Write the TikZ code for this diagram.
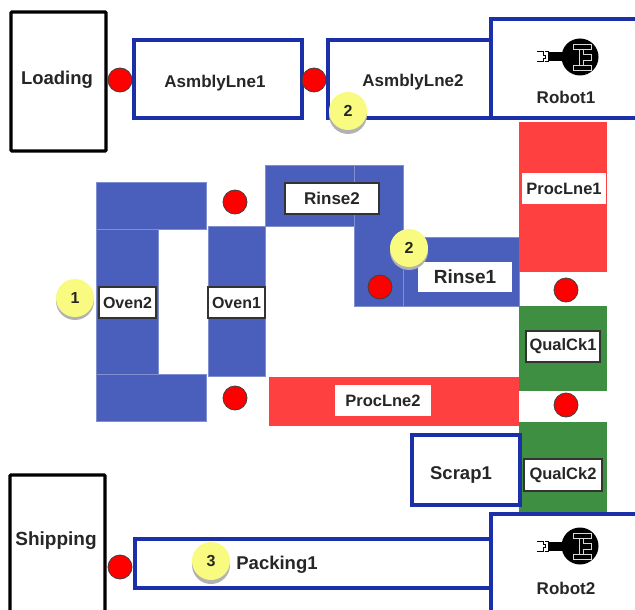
\documentclass[tikz,border=0pt]{standalone}
\usepackage{fontspec}
\setmainfont{Liberation Sans}
\definecolor{linkblue}{HTML}{1A2FA8}
\definecolor{ovenblue}{HTML}{4A5FBB}
\definecolor{procred}{HTML}{FF4040}
\definecolor{qualgreen}{HTML}{3F8F42}
\definecolor{txtgray}{HTML}{262626}
\definecolor{bubble}{HTML}{F9FA80}
\newcommand{\fsz}[1]{\bfseries\fontsize{#1}{#1}\selectfont}
\tikzset{
  x=1pt,y=-1pt,
  txt/.style={text=txtgray,font=\fsz{17},inner sep=0pt,outer sep=0pt},
  bigtxt/.style={text=txtgray,font=\fsz{18.5},inner sep=0pt,outer sep=0pt},
  smalltxt/.style={text=txtgray,font=\fsz{16.5},inner sep=0pt,outer sep=0pt,anchor=north west,align=center},
  holder/.style={draw=black,line width=3.4pt,fill=white,rounded corners=1pt,outer sep=0pt,anchor=north west},
  station/.style={draw=linkblue,line width=3.2pt,fill=white,outer sep=0pt,anchor=north west},
  ovenfill/.style={fill=ovenblue,draw=ovenblue!70!white,line width=.5pt},
  redfill/.style={fill=procred},
  greenfill/.style={fill=qualgreen},
  labelbox/.style={smalltxt,draw=black!80,line width=1.2pt,fill=white},
  plainbox/.style={smalltxt,fill=white},
  buffer/.style={circle,draw=black!75,line width=.8pt,fill=red,minimum size=24pt,inner sep=0pt},
  badge/.style={circle,fill=bubble,minimum size=38pt,inner sep=0pt,text=txtgray,font=\fsz{16}},
  badgeshadow/.style={circle,fill=black!30,minimum size=38pt,inner sep=0pt},
}
\newcommand{\robotglyph}[2]{%
  \begin{scope}[shift={(#1,#2)}]
    \fill[black] (0,0) circle (18.5);
    \fill[black] (-32,-4.5) rectangle (0,4.5);
    \draw[black,line width=1pt] (-35,-5) -- (-32,-5) -- (-32,5) -- (-35,5);
    \draw[black,line width=1pt] (-43,-5) -- (-37,-5) -- (-37,-1.5) -- (-35,-1.5) -- (-35,1.5) -- (-37,1.5) -- (-37,5) -- (-43,5);
    \draw[white!85!black,line width=.7pt] (-7,-13) rectangle (11,-8);
    \draw[white!85!black,line width=.7pt] (-7,8) rectangle (11,13);
    \draw[white!85!black,line width=.7pt] (-1,-8) -- (-1,8) (3,-8) -- (3,-3) -- (11,-3) -- (11,3) -- (3,3) -- (3,8);
  \end{scope}}
\begin{document}
\begin{tikzpicture}
\useasboundingbox (0,0) rectangle (635,610);
\clip (0,0) rectangle (635,610);
% process zones
\path[ovenfill] (96,182) rectangle (206,229);
\path[ovenfill] (96,229) rectangle (158,374);
\path[ovenfill] (96,374) rectangle (206,421);
\path[ovenfill] (208,226) rectangle (265,376);
\path[ovenfill] (265,165) rectangle (354,226);
\path[ovenfill] (354,165) rectangle (403,306);
\path[ovenfill] (403,237) rectangle (519,306);
\path[redfill] (519,122) rectangle (607,272);
\path[redfill] (269,377) rectangle (519,426);
\path[greenfill] (519,306) rectangle (607,391);
\path[greenfill] (519,422) rectangle (607,513);
% stations
\node[holder,minimum width=95pt,minimum height=139pt] (loading) at (11,12) {};
\node[bigtxt] (loadingtxt) at (57,80) {Loading};
\node[holder,minimum width=95pt,minimum height=150pt] (shipping) at (10,475) {};
\node[bigtxt,font=\fsz{19}] (shippingtxt) at (56,541) {Shipping};
\node[station,minimum width=168pt,minimum height=78pt] (line1) at (134,40) {};
\node[txt] (line1txt) at (215,83) {AsmblyLne1};
\node[station,minimum width=175pt,minimum height=78pt] (line2) at (328,40) {};
\node[txt] (line2txt) at (413,82) {AsmblyLne2};
\node[station,minimum width=170pt,minimum height=99pt] (robot1) at (491,19) {};
\node[txt] (robot1txt) at (566,97) {Robot1};
\node[station,minimum width=360pt,minimum height=49pt] (packing) at (135,539) {};
\node[bigtxt,font=\fsz{18.5}] (packingtxt) at (277,565) {Packing1};
\node[station,minimum width=170pt,minimum height=110pt] (robot2) at (491,514) {};
\node[txt] (robot2txt) at (566,588) {Robot2};
\node[station,minimum width=108pt,minimum height=70pt] (scrap) at (412,435) {};
\node[bigtxt] (scraptxt) at (461,475) {Scrap1};
\robotglyph{580}{57}
\robotglyph{580}{546}
% zone labels
\node[plainbox,minimum width=94pt,minimum height=30pt,font=\fsz{19}] (rinse1) at (418,262) {Rinse1};
\node[labelbox,minimum width=94pt,minimum height=31pt,font=\fsz{17}] (rinse2) at (285,183) {Rinse2};
\node[plainbox,minimum width=84pt,minimum height=31pt] (proc1) at (522,173) {ProcLne1};
\node[plainbox,minimum width=96pt,minimum height=31pt] (proc2) at (335,385) {ProcLne2};
\node[labelbox,minimum width=57pt,minimum height=31pt,font=\fsz{16}] (oven2) at (99,287) {Oven2};
\node[labelbox,minimum width=57pt,minimum height=31pt,font=\fsz{16}] (oven1) at (208,287) {Oven1};
\node[labelbox,minimum width=74pt,minimum height=31pt,font=\fsz{16.5}] (qual1) at (526,331) {QualCk1};
\node[labelbox,minimum width=78pt,minimum height=32pt,font=\fsz{16.5}] (qual2) at (524,459) {QualCk2};
% buffers
\node[buffer] (b1) at (120,80) {};
\node[buffer] (b2) at (314,80) {};
\node[buffer] (b3) at (235,202) {};
\node[buffer] (b4) at (380,287) {};
\node[buffer] (b5) at (566,290) {};
\node[buffer] (b6) at (235,398) {};
\node[buffer] (b7) at (566,405) {};
\node[buffer] (b8) at (120,567) {};
% badges
\node[badgeshadow] (s1) at (75,301) {};
\node[badge] (n1) at (75,298) {1};
\node[badgeshadow] (s2a) at (348,115) {};
\node[badge] (n2a) at (348,111) {2};
\node[badgeshadow] (s2b) at (409,251) {};
\node[badge] (n2b) at (409,248) {2};
\node[badgeshadow] (s3) at (211,565) {};
\node[badge] (n3) at (211,561) {3};
\end{tikzpicture}
\end{document}
